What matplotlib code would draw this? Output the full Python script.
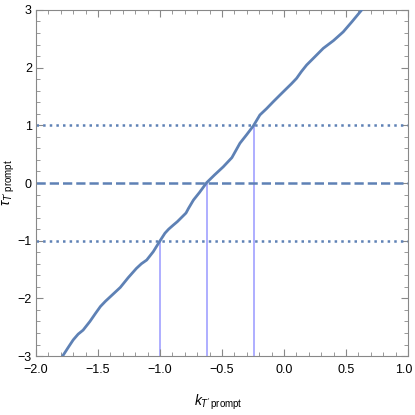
import matplotlib
matplotlib.use("Agg")
import matplotlib.pyplot as plt
import matplotlib.transforms as mtransforms
from matplotlib.ticker import MultipleLocator

# curve
k_vals = [-1.785, -1.74, -1.70, -1.66, -1.62, -1.565, -1.52, -1.48, -1.44, -1.40,
          -1.36, -1.32, -1.256, -1.19, -1.15, -1.107, -1.054, -1.005, -0.96, -0.93,
          -0.893, -0.86, -0.825, -0.79, -0.77, -0.73, -0.68, -0.624, -0.56, -0.49,
          -0.42, -0.355, -0.30, -0.247, -0.194, -0.14, -0.086, -0.03, 0.022, 0.06,
          0.102, 0.14, 0.183, 0.25, 0.317, 0.40, 0.478, 0.55, 0.627]
tau_vals = [-3.0, -2.85, -2.72, -2.62, -2.55, -2.40, -2.26, -2.14, -2.05, -1.97,
            -1.89, -1.81, -1.64, -1.48, -1.40, -1.335, -1.19, -1.02, -0.87, -0.80,
            -0.73, -0.67, -0.595, -0.52, -0.44, -0.295, -0.16, 0.005, 0.14, 0.28,
            0.44, 0.69, 0.84, 0.99, 1.18, 1.29, 1.41, 1.53, 1.64, 1.72,
            1.815, 1.93, 2.046, 2.19, 2.335, 2.47, 2.62, 2.80, 3.0]

levels = [-1, 0, 1]
level_styles = [":", "--", ":"]
crossings = [-1.0, -0.62, -0.24]

x_ticks = [-2.0, -1.5, -1.0, -0.5, 0.0, 0.5, 1.0]
y_ticks = [-3, -2, -1, 0, 1, 2, 3]

curve_col = "#5e81b5"
vline_col = "#9898ff"

plt.rcParams["font.family"] = ["Liberation Sans", "DejaVu Sans"]
plt.rcParams["mathtext.fontset"] = "custom"
plt.rcParams["mathtext.it"] = "Liberation Sans:italic"
plt.rcParams["mathtext.rm"] = "Liberation Sans"

fig = plt.figure(figsize=(4.15, 4.15), dpi=100)
ax = fig.add_axes([0.0867, 0.142, 0.8963, 0.834])

for lv, ls in zip(levels, level_styles):
    ax.axhline(lv, color=curve_col, ls=ls, lw=1.8, zorder=2)

for c, lv in zip(crossings, levels):
    ax.plot([c, c], [-3, lv], color=vline_col, lw=1.1, zorder=1)

ax.plot(k_vals, tau_vals, color=curve_col, lw=2.0, zorder=3, solid_joinstyle="round")

ax.set_xlim(-2, 1)
ax.set_ylim(-3, 3)
ax.set_xticks(x_ticks, [f"{v:.1f}".replace("-", "\u2212") for v in x_ticks])
ax.set_yticks(y_ticks, [f"{v}".replace("-", "\u2212") for v in y_ticks])
ax.xaxis.set_minor_locator(MultipleLocator(0.1))
ax.yaxis.set_minor_locator(MultipleLocator(0.2))

ax.tick_params(which="both", direction="in", top=True, right=True, colors="#888888",
               labelcolor="black", labelsize=9)
ax.tick_params(which="major", length=5, width=0.8, pad=3)
ax.tick_params(axis="x", which="major", pad=6)
ax.tick_params(which="minor", length=3, width=0.6)
for s in ax.spines.values():
    s.set_color("#888888")
    s.set_linewidth(0.8)

# nudge the last x label so it stays inside the figure
last = ax.xaxis.get_major_ticks()[-1].label1
last.set_transform(last.get_transform() + mtransforms.ScaledTranslation(-4 / 100, 0, fig.dpi_scale_trans))

ax.set_xlabel(r"$k_{T^{\prime}\,\mathrm{prompt}}$", fontsize=10)
ax.set_ylabel(r"$\tau_{T^{\prime}\,\mathrm{prompt}}$", fontsize=10)
ax.xaxis.set_label_coords(0.49, -0.105)
ax.yaxis.set_label_coords(-0.05, 0.5)

fig.savefig("out.png", dpi=100)
